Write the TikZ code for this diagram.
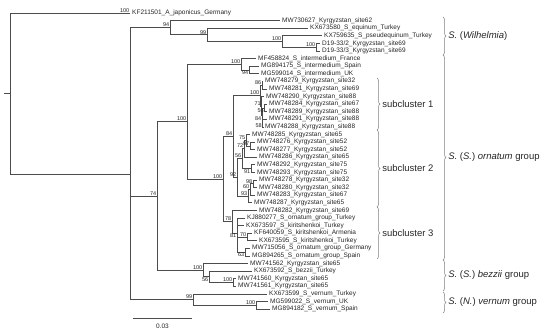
\documentclass[tikz,border=0pt]{standalone}
\usepackage{fontspec}
\setmainfont{Liberation Sans}
\usepackage{tikz}
\usetikzlibrary{decorations.pathreplacing}

\begin{document}
\begin{tikzpicture}[x=1pt, y=-1pt, font=\fontsize{6.5}{7}\selectfont, text=black!85,
  branch/.style={draw=black!70, line width=0.65pt},
  leaf/.style={anchor=west, inner xsep=2pt, inner ysep=0pt},
  boot/.style={anchor=south east, inner sep=0.5pt, font=\fontsize{5.5}{6}\selectfont},
  bootb/.style={boot, anchor=north east},
  grp/.style={draw=black!50, line width=0.5pt, decorate, decoration={brace, amplitude=3pt}},
  grplab/.style={anchor=west, inner sep=0pt, font=\fontsize{9.5}{11}\selectfont}]
\useasboundingbox (0,0) rectangle (550,333);
% tips
\foreach \i/\tx/\lab in {1/130/KF211501\_A\_japonicus\_Germany,
  2/280/MW730627\_Kyrgyzstan\_site62, 3/308/KX673580\_S\_equinum\_Turkey,
  4/322/KX759635\_S\_pseudequinum\_Turkey, 5/320/{D19-33/2\_Kyrgyzstan\_site69},
  6/320/{D19-33/3\_Kyrgyzstan\_site69}, 7/256/MF458824\_S\_intermedium\_France,
  8/259/MG894175\_S\_intermedium\_Spain, 9/259/MG599014\_S\_intermedium\_UK,
  10/263/MW748279\_Kyrgyzstan\_site32, 11/267/MW748281\_Kyrgyzstan\_site69,
  12/264/MW748290\_Kyrgyzstan\_site88, 13/267/MW748284\_Kyrgyzstan\_site67,
  14/267/MW748289\_Kyrgyzstan\_site88, 15/267/MW748291\_Kyrgyzstan\_site88,
  16/263/MW748288\_Kyrgyzstan\_site88, 17/250/MW748285\_Kyrgyzstan\_site65,
  18/255/MW748276\_Kyrgyzstan\_site52, 19/255/MW748277\_Kyrgyzstan\_site52,
  20/257/MW748286\_Kyrgyzstan\_site65, 21/255/MW748292\_Kyrgyzstan\_site75,
  22/255/MW748293\_Kyrgyzstan\_site75, 23/257/MW748278\_Kyrgyzstan\_site32,
  24/257/MW748280\_Kyrgyzstan\_site32, 25/255/MW748283\_Kyrgyzstan\_site67,
  26/252/MW748287\_Kyrgyzstan\_site65, 27/257/MW748282\_Kyrgyzstan\_site69,
  28/245/KJ880277\_S\_ornatum\_group\_Turkey, 29/244/KX673597\_S\_kiritshenkoi\_Turkey,
  30/252/KF640059\_S\_kiritshenkoi\_Armenia, 31/257/KX673595\_S\_kiritshenkoi\_Turkey,
  32/250/MW715056\_S\_ornatum\_group\_Germany, 33/250/MG894265\_S\_ornatum\_group\_Spain,
  34/248/MW741562\_Kyrgyzstan\_site65, 35/252/KX673592\_S\_bezzii\_Turkey,
  36/236/MW741560\_Kyrgyzstan\_site65, 37/236/MW741561\_Kyrgyzstan\_site65,
  38/267/KX673599\_S\_vernum\_Turkey, 39/268/MG599022\_S\_vernum\_UK,
  40/270/MG894182\_S\_vernum\_Spain}
  \node[leaf] (l\i) at (\tx,{13+(\i-1)*7.59}) {\lab};
% internal nodes
\foreach \n/\x/\y in {root/10/93.69, nA/130/174.38, nW/170/27.71, nW2/207/34.82,
  nW3/282/41.47, nW4/316/47.16, n74/157/195.89, n100/187/121.66, nI/241/64.23,
  nI2/249/69.93, nO/223/179.09, n84/233/136.46, nS1/260/95.54, n86/262/85.1,
  n71/261.5/105.98, n84c/262/115.47, n56/264.5/107.88, n58/262.5/123.06,
  nS2/237/177.37, n56b/242/158.63, n72/244/148.67, n75/246/140.13, n97/250/145.83,
  n91/251/168.6, n93/248/196.11, n60/250/189.47, n98/253/183.78,
  n78/232/221.72, n81/237/233.1, n70/247/236.9, n63/245/252.09,
  nB/203/270.11, nB2/209/276.76, nB3/233/282.45, nV/193/299.53, nV2/256/305.22}
  \coordinate (\n) at (\x,\y);
\coordinate (stub) at (4,93.69);
% branches
\draw[branch] (stub) -- (root);
\foreach \p/\c in {root/l1.west, root/nA, nA/nW, nA/n74, nA/nV,
  nW/l2.west, nW/nW2, nW2/l3.west, nW2/nW3, nW3/l4.west, nW3/nW4, nW4/l5.west, nW4/l6.west,
  n74/n100, n74/nB, n100/nI, n100/nO, nI/l7.west, nI/nI2, nI2/l8.west, nI2/l9.west,
  nO/n84, nO/n78, n84/nS1, n84/nS2,
  nS1/n86, nS1/n71, n86/l10.west, n86/l11.west, n71/l12.west, n71/n84c, n84c/n56, n84c/n58,
  n56/l13.west, n56/l14.west, n58/l15.west, n58/l16.west,
  nS2/n56b, nS2/n93, n56b/n72, n56b/n91, n72/n75, n72/l20.west, n75/l17.west, n75/n97,
  n97/l18.west, n97/l19.west, n91/l21.west, n91/l22.west, n93/n60, n93/l26.west,
  n60/n98, n60/l25.west, n98/l23.west, n98/l24.west,
  n78/l27.west, n78/n81, n81/l28.west, n81/l29.west, n81/n70, n81/n63,
  n70/l30.west, n70/l31.west, n63/l32.west, n63/l33.west,
  nB/l34.west, nB/nB2, nB2/l35.west, nB2/nB3, nB3/l36.west, nB3/l37.west,
  nV/l38.west, nV/nV2, nV2/l39.west, nV2/l40.west}
  \draw[branch] (\p) |- (\c);
% bootstrap values
\foreach \n/\v in {l1.west/100, nW/94, nW2/99, nW3/100, nW4/100, nI/100, n100/100, nO/100,
  n84/84, nS1/100, n86/86, n71/71, n75/75, n72/72, n97/97, n56b/56, nS2/92, n98/98,
  n60/60, n93/93, n78/78, n70/70, n74/74, nB/100, nB3/100, nV/99, nV2/100}
  \node[boot] at (\n) {\v};
\foreach \n/\v in {nI2/94, n56/56, n84c/84, n58/58, n91/91, n81/81, n63/63, nB2/56}
  \node[bootb] at (\n) {\v};
% scale bar
\coordinate (s0) at (133,318);
\coordinate (s1) at (192,318);
\draw[branch] (s0) -- (s1) node[midway, below=2pt] (sbar) {0.03};
% clades
\draw[grp] (377,78) -- (377,130) node[midway, right=5pt, grplab] (g1) {subcluster 1};
\draw[grp] (377,130) -- (377,207) node[midway, right=5pt, grplab] (g2) {subcluster 2};
\draw[grp] (377,207) -- (377,259) node[midway, right=5pt, grplab] (g3) {subcluster 3};
\draw[grp] (443,17) -- (443,55) node[midway, right=5pt, grplab] (gW) {\textit{S.} (\textit{Wilhelmia})};
\draw[grp] (443,55) -- (443,260) node[midway, right=5pt, grplab] (gO) {\textit{S.} (\textit{S.}) \textit{ornatum} group};
\draw[grp] (443,260) -- (443,291) node[midway, right=5pt, grplab] (gB) {\textit{S.} (\textit{S.}) \textit{bezzii} group};
\draw[grp] (443,292) -- (443,313) node[midway, right=5pt, grplab] (gV) {\textit{S.} (\textit{N.}) \textit{vernum} group};
\end{tikzpicture}
\end{document}
